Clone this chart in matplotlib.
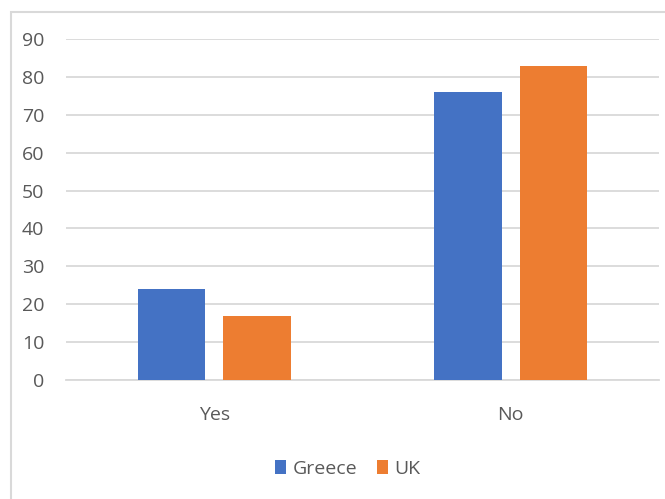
import matplotlib
matplotlib.use("Agg")
import matplotlib.pyplot as plt
from matplotlib.patches import Rectangle
import numpy as np

categories = ["Yes", "No"]
greece = [24, 76]
uk = [17, 83]
series_names = ["Greece", "UK"]
yticks = [0, 10, 20, 30, 40, 50, 60, 70, 80, 90]

plt.rcParams['font.family'] = ['Open Sans', 'DejaVu Sans']

W, H = 665, 499
fig = plt.figure(figsize=(W / 100, H / 100), dpi=100)
ax = fig.add_axes([66 / W, 1 - 380 / H, (659 - 66) / W, (380 - 39) / H])

# outer chart border (bottom and right run off the image)
fig.patches.append(Rectangle((10.5 / W, 1 - 510 / H), (680 - 10.5) / W, (510 - 12) / H,
                             transform=fig.transFigure, fill=False,
                             edgecolor="#d9d9d9", linewidth=1.5))

x = np.arange(len(categories))
bw = 0.227
off = bw / 2 + 0.031
b1 = ax.bar(x - off, greece, bw, color="#4472C4", label=series_names[0], zorder=3)
b2 = ax.bar(x + off, uk, bw, color="#ED7D31", label=series_names[1], zorder=3)

ax.set_xlim(-0.5, 1.5)
ax.set_ylim(0, 90)
ax.set_yticks(yticks)
ax.set_xticks(x)
ax.set_xticklabels(categories)
ax.yaxis.grid(True, color="#d9d9d9", linewidth=1.3, zorder=0)
ax.set_axisbelow(True)
for s in ["top", "right", "left"]:
    ax.spines[s].set_visible(False)
ax.spines["bottom"].set_color("#d9d9d9")
ax.spines["bottom"].set_linewidth(1.3)
ax.tick_params(axis="both", length=0, labelsize=14, colors="#595959")
ax.tick_params(axis="y", pad=15.5)
ax.tick_params(axis="x", pad=19)

leg = fig.legend(handles=[b1, b2], labels=series_names, loc="center",
                 bbox_to_anchor=(348 / W, 1 - 469 / H), ncol=2, frameon=False,
                 fontsize=14, handlelength=0.55, handleheight=0.7,
                 handletextpad=0.35, columnspacing=1.0)
for t in leg.get_texts():
    t.set_color("#595959")

fig.savefig("out.png", dpi=100)
